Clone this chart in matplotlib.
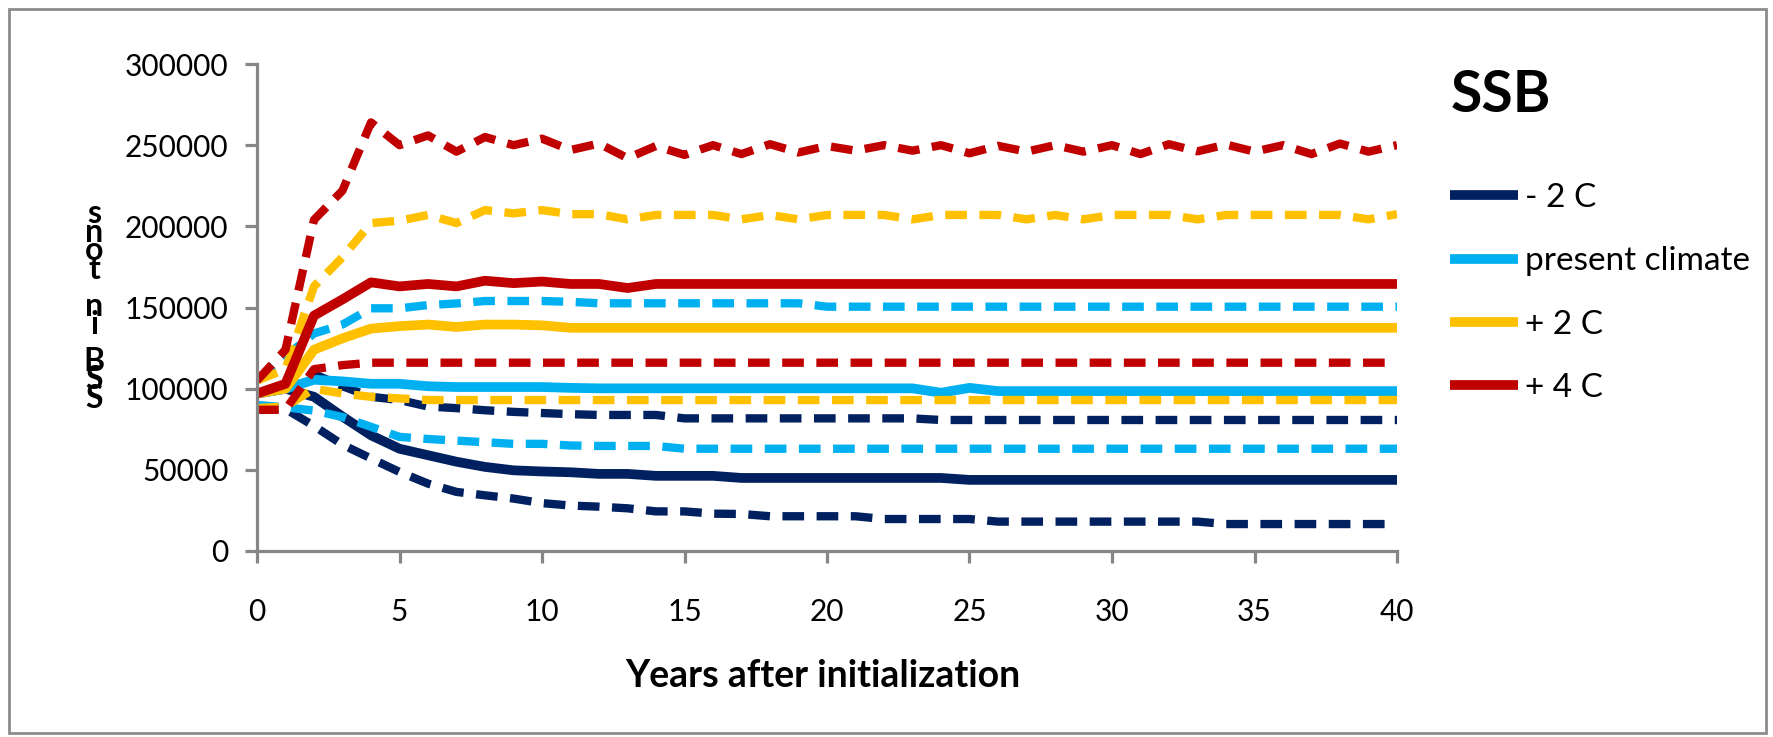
import matplotlib
matplotlib.use("Agg")
import matplotlib.pyplot as plt
from matplotlib.patches import Rectangle
from matplotlib.ticker import MultipleLocator

plt.rcParams['font.family'] = ['Lato', 'DejaVu Sans']

# years after initialization
years = list(range(0, 41))

# -2 C : median, upper and lower
cold_mid = [97000, 100000, 95000, 82800, 71300, 63000, 59000, 55000, 51800, 49700,
            49000, 48500, 47500, 47500, 46300, 46300, 46300, 45000, 45000, 45000,
            45000, 45000, 45000, 45000, 45000, 43800, 43800, 43800, 43800, 43800,
            43800, 43800, 43800, 43800, 43800, 43800, 43800, 43800, 43800, 43800, 43800]
cold_hi = [105000, 122000, 109000, 101500, 95000, 93000, 89000, 88000, 86700, 85700,
           85000, 84300, 83800, 83800, 83800, 81700, 81700, 81700, 81700, 81700,
           81700, 81700, 81700, 81700, 80700, 80700, 80700, 80700, 80700, 80700,
           80700, 80700, 80700, 80700, 80700, 80700, 80700, 80700, 80700, 80700, 80700]
cold_lo = [87000, 87500, 77000, 65500, 57000, 48700, 41500, 36400, 34300, 32300,
           29500, 28000, 27300, 26300, 24400, 24400, 23000, 22800, 21400, 21400,
           21400, 21400, 19700, 19700, 19700, 19700, 18100, 18100, 18100, 18100,
           18100, 18100, 18100, 18100, 16600, 16600, 16600, 16600, 16600, 16600, 16600]

# present climate
pres_mid = [97000, 100000, 105500, 104500, 103000, 103000, 101500, 101000, 101000, 101000,
            101000, 100500, 100200, 100200, 100200, 100200, 100200, 100200, 100200, 100200,
            100200, 100200, 100200, 100200, 97500, 100500, 98500, 98500, 98500, 98500,
            98500, 98500, 98500, 98500, 98500, 98500, 98500, 98500, 98500, 98500, 98500]
pres_hi = [105000, 120000, 134000, 139500, 149500, 149500, 151500, 152500, 154000, 154000,
           154000, 153500, 152600, 152600, 152600, 152600, 152600, 152600, 152600, 152600,
           150500, 150500, 150500, 150500, 150500, 150500, 150500, 150500, 150500, 150500,
           150500, 150500, 150500, 150500, 150500, 150500, 150500, 150500, 150500, 150500, 150500]
pres_lo = [90000, 88500, 86500, 82500, 76500, 70300, 69000, 68000, 67000, 66000,
           66000, 65000, 64700, 64700, 64700, 63000, 63000, 63000, 63000, 63000,
           63000, 63000, 63000, 63000, 63000, 63000, 63000, 63000, 63000, 63000,
           63000, 63000, 63000, 63000, 63000, 63000, 63000, 63000, 63000, 63000, 63000]

# +2 C
warm2_mid = [97000, 100000, 124000, 131000, 137000, 138500, 139500, 138000, 139500, 139500,
             139000, 137500, 137500, 137500, 137500, 137500, 137500, 137500, 137500, 137500,
             137500, 137500, 137500, 137500, 137500, 137500, 137500, 137500, 137500, 137500,
             137500, 137500, 137500, 137500, 137500, 137500, 137500, 137500, 137500, 137500, 137500]
warm2_hi = [105000, 112000, 163000, 181000, 202000, 203500, 207000, 202000, 210000, 208000,
            210000, 207500, 207500, 204300, 207000, 207000, 207000, 204300, 207000, 204300,
            207000, 207000, 207000, 204300, 207000, 207000, 207000, 204300, 207000, 204300,
            207000, 207000, 207000, 204300, 207000, 207000, 207000, 207000, 207000, 204300, 207500]
warm2_lo = [88000, 89000, 100000, 97000, 95000, 94000, 93000, 93000, 93000, 93000,
            93000, 93000, 93000, 93000, 93000, 93000, 93000, 93000, 93000, 93000,
            93000, 93000, 93000, 93000, 93000, 93000, 93000, 93000, 93000, 93000,
            93000, 93000, 93000, 93000, 93000, 93000, 93000, 93000, 93000, 93000, 93000]

# +4 C
warm4_mid = [97000, 103000, 145000, 155000, 165500, 163000, 164500, 163000, 166500, 165000,
             166000, 164500, 164500, 162000, 164500, 164500, 164500, 164500, 164500, 164500,
             164500, 164500, 164500, 164500, 164500, 164500, 164500, 164500, 164500, 164500,
             164500, 164500, 164500, 164500, 164500, 164500, 164500, 164500, 164500, 164500, 164500]
warm4_hi = [105000, 124000, 204000, 222000, 264000, 250000, 256000, 246000, 255000, 250000,
            254000, 247000, 251000, 242000, 249500, 244000, 250000, 244500, 250600, 245500,
            249500, 246600, 250000, 246600, 250000, 245000, 249600, 246000, 250000, 246000,
            250000, 244500, 250600, 246200, 250400, 246000, 250000, 244500, 251000, 246000, 250000]
warm4_lo = [87000, 87000, 112000, 114500, 116000, 116000, 116000, 116000, 116000, 116000,
            116000, 116000, 116000, 116000, 116000, 116000, 116000, 116000, 116000, 116000,
            116000, 116000, 116000, 116000, 116000, 116000, 116000, 116000, 116000, 116000,
            116000, 116000, 116000, 116000, 116000, 116000, 116000, 116000, 116000, 116000, 116000]

labels = ['- 2 C', 'present climate', '+ 2 C', '+ 4 C']
colors = ['#002060', '#00B0F0', '#FFC000', '#C00000']
groups = [(cold_mid, cold_hi, cold_lo), (pres_mid, pres_hi, pres_lo),
          (warm2_mid, warm2_hi, warm2_lo), (warm4_mid, warm4_hi, warm4_lo)]

W, H = 1773, 737
fig = plt.figure(figsize=(W / 100, H / 100), dpi=100)
ax = fig.add_axes([257 / W, 1 - 551 / H, (1397 - 257) / W, (551 - 64) / H])

handles = []
for (mid, hi, lo), col, lab in zip(groups, colors, labels):
    for band in (hi, lo):
        ax.plot(years, band, color=col, lw=6.0, dashes=(2.6, 1.5),
                dash_capstyle='butt', solid_joinstyle='miter')
    h, = ax.plot(years, mid, color=col, lw=7.0, solid_capstyle='butt', label=lab)
    handles.append(h)

ax.set_xlim(0, 40)
ax.set_ylim(0, 300000)
ax.xaxis.set_major_locator(MultipleLocator(5))
ax.yaxis.set_major_locator(MultipleLocator(50000))
for s in ('top', 'right'):
    ax.spines[s].set_visible(False)
for s in ('left', 'bottom'):
    ax.spines[s].set_color('#868686')
    ax.spines[s].set_linewidth(2.3)
ax.tick_params(axis='both', direction='out', length=8.5, width=2.3, color='#868686',
               labelsize=21.5, labelcolor='black')
ax.tick_params(axis='y', pad=12)
ax.tick_params(axis='x', pad=25)

fig.text(823 / W, 1 - 676 / H, 'Years after initialization', ha='center', va='center',
         fontsize=27, fontweight='bold')
fig.text(1451 / W, 1 - 96 / H, 'SSB', ha='left', va='center', fontsize=41, fontweight='bold')

# y label: letters stacked upright, read from the bottom up
fig.text(94 / W, 1 - 306 / H, '\n'.join(reversed('SSB in tons')), ha='center', va='center',
         fontsize=23, fontweight='bold', linespacing=0.56, multialignment='center')

ax.legend(handles=handles, loc='upper left', bbox_to_anchor=(1450 / W, 1 - 183 / H),
          bbox_transform=fig.transFigure, frameon=False, fontsize=24, borderpad=0,
          borderaxespad=0, handlelength=2.05, handletextpad=0.2, labelspacing=1.0)

fig.patches.append(Rectangle((9 / W, 1 - 733 / H), (1766 - 9) / W, (733 - 9) / H,
                             transform=fig.transFigure, fill=False, edgecolor='#8c8c8c',
                             linewidth=2))

fig.savefig('out.png', dpi=100)
